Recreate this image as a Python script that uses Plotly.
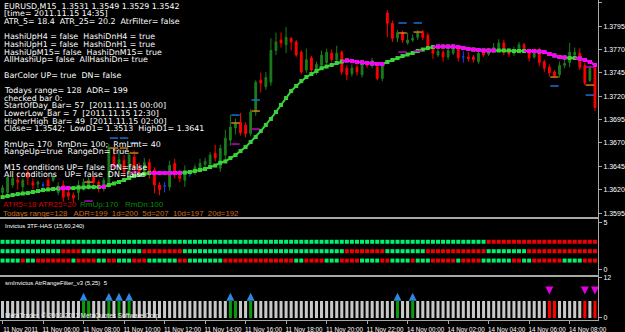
import pandas as pd
import plotly.graph_objects as go
from plotly.subplots import make_subplots

# ---------------- data ----------------
times = list(pd.date_range("2011-11-11 04:00", "2011-11-11 23:45", freq="15min")) + \
        list(pd.date_range("2011-11-14 00:00", "2011-11-14 09:15", freq="15min"))
cats = [t.strftime("%Y-%m-%d %H:%M") for t in times]

opens = [1.3617,1.3617,1.3625,1.3630,1.3623,1.3638,1.3628,1.3626,1.3625,1.3630,
         1.3630,1.3617,1.3625,1.3617,1.3614,1.3617,1.3622,1.3624,1.3633,1.3628,
         1.3622,1.3627,1.3655,1.3644,1.3651,1.3639,1.3655,1.3644,1.3638,1.3649,
         1.3641,1.3625,1.3624,1.3623,1.3648,1.3635,1.3630,1.3637,1.3639,1.3641,
         1.3647,1.3647,1.3659,1.3643,1.3657,1.3673,1.3686,1.3692,1.3689,1.3680,
         1.3703,1.3737,1.3730,1.3735,1.3769,1.3780,1.3775,1.3782,1.3778,1.3767,
         1.3748,1.3761,1.3746,1.3753,1.3756,1.3766,1.3759,1.3767,1.3750,1.3744,
         1.3751,1.3743,1.3755,1.3753,1.3751,1.3739,1.3809,1.3798,1.3782,1.3788,
         1.3777,1.3780,1.3783,1.3789,1.3785,1.3771,1.3764,1.3767,1.3762,1.3766,
         1.3771,1.3762,1.3762,1.3762,1.3757,1.3767,1.3765,1.3769,1.3771,1.3777,
         1.3768,1.3766,1.3769,1.3775,1.3767,1.3762,1.3767,1.3757,1.3751,1.3746,
         1.3743,1.3753,1.3756,1.3764,1.3766,1.3753,1.3737,1.3750]
highs = [1.3625,1.3635,1.3635,1.3638,1.3632,1.3643,1.3632,1.3630,1.3628,1.3633,
         1.3637,1.3628,1.3630,1.3622,1.3617,1.3630,1.3632,1.3633,1.3636,1.3630,
         1.3633,1.3669,1.3665,1.3662,1.3657,1.3660,1.3662,1.3649,1.3654,1.3653,
         1.3644,1.3628,1.3628,1.3651,1.3653,1.3641,1.3646,1.3641,1.3647,1.3653,
         1.3654,1.3660,1.3668,1.3668,1.3684,1.3700,1.3696,1.3702,1.3692,1.3706,
         1.3737,1.3745,1.3746,1.3782,1.3788,1.3788,1.3794,1.3783,1.3780,1.3769,
         1.3771,1.3763,1.3757,1.3769,1.3771,1.3770,1.3774,1.3769,1.3753,1.3754,
         1.3754,1.3759,1.3757,1.3761,1.3753,1.3756,1.3812,1.3801,1.3791,1.3790,
         1.3788,1.3786,1.3791,1.3791,1.3788,1.3773,1.3771,1.3770,1.3772,1.3776,
         1.3774,1.3768,1.3767,1.3764,1.3769,1.3769,1.3771,1.3777,1.3781,1.3780,
         1.3771,1.3773,1.3778,1.3777,1.3769,1.3769,1.3772,1.3759,1.3754,1.3748,
         1.3757,1.3761,1.3777,1.3772,1.3771,1.3756,1.3753,1.3753]
lows = [1.3614,1.3612,1.3622,1.3620,1.3617,1.3625,1.3620,1.3622,1.3622,1.3620,
        1.3628,1.3614,1.3607,1.3609,1.3606,1.3609,1.3619,1.3620,1.3625,1.3617,
        1.3618,1.3622,1.3641,1.3639,1.3633,1.3635,1.3636,1.3634,1.3634,1.3632,
        1.3616,1.3614,1.3617,1.3619,1.3632,1.3628,1.3623,1.3634,1.3636,1.3639,
        1.3643,1.3644,1.3650,1.3639,1.3651,1.3667,1.3679,1.3678,1.3676,1.3677,
        1.3699,1.3724,1.3727,1.3731,1.3764,1.3772,1.3766,1.3769,1.3762,1.3744,
        1.3745,1.3745,1.3743,1.3751,1.3754,1.3756,1.3756,1.3743,1.3737,1.3741,
        1.3742,1.3740,1.3750,1.3750,1.3737,1.3736,1.3783,1.3778,1.3778,1.3777,
        1.3775,1.3778,1.3780,1.3780,1.3769,1.3760,1.3762,1.3757,1.3759,1.3764,
        1.3757,1.3756,1.3757,1.3756,1.3755,1.3762,1.3763,1.3767,1.3769,1.3764,
        1.3762,1.3763,1.3767,1.3767,1.3757,1.3760,1.3752,1.3746,1.3741,1.3740,
        1.3740,1.3750,1.3751,1.3762,1.3748,1.3732,1.3735,1.3704]
closes = [1.3622,1.3633,1.3632,1.3628,1.3630,1.3633,1.3625,1.3628,1.3625,1.3624,
          1.3634,1.3624,1.3612,1.3613,1.3611,1.3625,1.3628,1.3630,1.3628,1.3625,
          1.3630,1.3665,1.3646,1.3652,1.3639,1.3657,1.3643,1.3638,1.3649,1.3638,
          1.3625,1.3620,1.3624,1.3646,1.3638,1.3632,1.3640,1.3637,1.3644,1.3648,
          1.3650,1.3657,1.3654,1.3664,1.3675,1.3687,1.3692,1.3681,1.3680,1.3703,
          1.3735,1.3734,1.3740,1.3769,1.3778,1.3777,1.3783,1.3778,1.3764,1.3746,
          1.3759,1.3748,1.3754,1.3764,1.3767,1.3759,1.3766,1.3746,1.3743,1.3750,
          1.3746,1.3756,1.3753,1.3758,1.3739,1.3753,1.3798,1.3782,1.3788,1.3780,
          1.3780,1.3782,1.3788,1.3783,1.3773,1.3766,1.3768,1.3762,1.3769,1.3772,
          1.3761,1.3762,1.3760,1.3759,1.3766,1.3764,1.3768,1.3772,1.3777,1.3767,
          1.3765,1.3770,1.3775,1.3769,1.3761,1.3767,1.3756,1.3750,1.3745,1.3742,
          1.3753,1.3755,1.3767,1.3767,1.3751,1.3734,1.3750,1.3708]

ma_values = [1.36121,1.36132,1.36143,1.36153,1.36159,1.36164,1.36175,1.36185,1.36196,1.36202,
             1.36207,1.36212,1.36217,1.36217,1.36217,1.36223,1.36223,1.36228,1.36228,1.36228,
             1.36231,1.36250,1.36266,1.36282,1.36303,1.36325,1.36346,1.36357,1.36367,1.36378,
             1.36378,1.36378,1.36378,1.36378,1.36378,1.36378,1.36383,1.36389,1.36399,1.36410,
             1.36421,1.36442,1.36458,1.36488,1.36502,1.36538,1.36570,1.36613,1.36656,1.36710,
             1.36763,1.36827,1.36892,1.36956,1.37031,1.37106,1.37180,1.37255,1.37309,1.37362,
             1.37405,1.37437,1.37469,1.37499,1.37517,1.37534,1.37555,1.37571,1.37582,1.37576,
             1.37566,1.37561,1.37555,1.37550,1.37544,1.37544,1.37566,1.37587,1.37608,1.37630,
             1.37646,1.37662,1.37683,1.37699,1.37715,1.37726,1.37731,1.37731,1.37731,1.37731,
             1.37726,1.37715,1.37705,1.37699,1.37694,1.37689,1.37689,1.37689,1.37689,1.37689,
             1.37689,1.37683,1.37683,1.37683,1.37683,1.37683,1.37678,1.37673,1.37651,1.37635,
             1.37619,1.37614,1.37608,1.37608,1.37603,1.37587,1.37566,1.37534]
# 1 = rising (green), 0 = flat (magenta)
ma_state = ("111111111111" "00" "111111" "0" "111111111" "000000"
            "11111111111111111111111111111111" "00000000" "1111111111"
            "000000000000" "111111" "00000000" "11" "0000")

lvl_blue = {22: 1.36752, 24: 1.36752, 26: 1.36699, 46: 1.36998, 50: 1.37159,
            79: 1.37983, 82: 1.37983, 109: 1.37309, 116: 1.37212}
lvl_orange = {17: 1.36281, 22: 1.36645, 24: 1.36645, 26: 1.36592, 46: 1.36913,
              50: 1.37041, 79: 1.37876, 82: 1.37886, 109: 1.37405, 116: 1.37319}
lvl_magenta = {17: 1.36078, 22: 1.36453, 26: 1.36388, 46: 1.36688, 50: 1.36849,
               79: 1.37672, 82: 1.37683, 116: 1.37512}

# Heiken-Ashi 3 timeframe rows (G = up, R = down)
has_h4 = "G" * 96 + "R" * 22
has_h1 = "G"*12 + "R"*4 + "G"*12 + "R"*8 + "G"*32 + "R"*8 + "G"*8 + "R"*12 + "G"*8 + "R"*14
has_m15 = ("GGGG" "R" "GG" "RRRRRRR" "G" "RRRR" "GG" "RR" "GGG" "RRR" "GGGGGG" "RR"
           "GGGGGGG" "RRRRRRRRRRRRRR" "GG" "RRRR" "GGG" "RRRR" "GGGG" "RR" "GGGG" "R"
           "GGG" "RRRRR" "G" "RRRR" "GGGGGG" "RR" "GG" "RRRRRR" "GGGG" "RRR")

arf_value = [5] * len(cats)
arf_green = [16, 17, 21, 23, 25, 45, 46, 49, 78, 81]
arf_red = [108, 109, 115, 117]
arrows_up = [16, 21, 23, 25, 45, 49, 78, 81]
arrows_dn = [108, 115, 117]

price_ticks = [1.3595, 1.3620, 1.3645, 1.3670, 1.3695, 1.3720, 1.3745, 1.3770, 1.3795, 1.3820]
time_ticks = ["2011-11-11 04:00", "2011-11-11 06:00", "2011-11-11 08:00", "2011-11-11 10:00",
              "2011-11-11 12:00", "2011-11-11 14:00", "2011-11-11 16:00", "2011-11-11 18:00",
              "2011-11-11 20:00", "2011-11-11 22:00", "2011-11-14 00:00", "2011-11-14 02:00",
              "2011-11-14 04:00", "2011-11-14 06:00", "2011-11-14 08:00"]
time_labels = ["11 Nov 2011", "11 Nov 06:00", "11 Nov 08:00", "11 Nov 10:00", "11 Nov 12:00",
               "11 Nov 14:00", "11 Nov 16:00", "11 Nov 18:00", "11 Nov 20:00", "11 Nov 22:00",
               "14 Nov 00:00", "14 Nov 02:00", "14 Nov 04:00", "14 Nov 06:00", "14 Nov 08:00"]

info_lines = [
    "EURUSD,M15  1.3531 1.3549 1.3529 1.3542",
    "[time= 2011.11.15 14:35]",
    "ATR_5= 18.4  ATR_25= 20.2  AtrFilter= false",
    "",
    "HashiUpH4 = false  HashiDnH4 = true",
    "HashiUpH1 = false  HashiDnH1 = true",
    "HashiUpM15= false  HashiDnM15= true",
    "AllHashiUp= false  AllHashiDn= true",
    "",
    "BarColor UP= true  DN= false",
    "",
    "Todays range= 128  ADR= 199",
    "checked bar 0:",
    "StartOfDay_Bar= 57  [2011.11.15 00:00]",
    "LowerLow_Bar = 7  [2011.11.15 12:30]",
    "HigherHigh_Bar= 49  [2011.11.15 02:00]",
    "Close= 1.3542;  LowD1= 1.3513  HighD1= 1.3641",
    "",
    "RmUp= 170  RmDn= 100;  RmLmt= 40",
    "RangeUp=true  RangeDn= true",
    "",
    "M15 conditions UP= false  DN=false",
    "All conditions   UP= false  DN=false",
]

# ---------------- figure ----------------
W, H = 625, 332
ML, MR, MT, MB = 0, 27, 0, 12
PW, PH = W - ML - MR, H - MT - MB
SANS = "Liberation Sans, Arial, sans-serif"

def px_y(y):
    return (PH - y) / PH

def px_x(x):
    return x / PW

BG = "#000000"
FRAME = "#a8a8a8"
GREEN_C = "#1b7d1b"
RED_C = "#ff0000"

fig = make_subplots(rows=3, cols=1, shared_xaxes=True, vertical_spacing=0)

n = len(cats)
nd = [i for i in range(n) if opens[i] != closes[i]]
dj = [i for i in range(n) if opens[i] == closes[i]]

fig.add_trace(go.Candlestick(
    x=[cats[i] for i in nd], open=[opens[i] for i in nd], high=[highs[i] for i in nd],
    low=[lows[i] for i in nd], close=[closes[i] for i in nd],
    increasing=dict(line=dict(color=GREEN_C, width=1), fillcolor=GREEN_C),
    decreasing=dict(line=dict(color=RED_C, width=1), fillcolor=RED_C),
    whiskerwidth=0, showlegend=False, hoverinfo="skip"), row=1, col=1)
fig.add_trace(go.Candlestick(
    x=[cats[i] for i in dj], open=[opens[i] for i in dj], high=[highs[i] for i in dj],
    low=[lows[i] for i in dj], close=[closes[i] for i in dj],
    increasing=dict(line=dict(color="#2040ff", width=1), fillcolor="#2040ff"),
    decreasing=dict(line=dict(color="#2040ff", width=1), fillcolor="#2040ff"),
    whiskerwidth=0, showlegend=False, hoverinfo="skip"), row=1, col=1)

# moving average, green / magenta
fig.add_trace(go.Scatter(x=cats, y=ma_values, mode="lines+markers",
                         line=dict(color="#3cd23c", width=2),
                         marker=dict(symbol="square", size=4, color="#3cd23c"),
                         showlegend=False, hoverinfo="skip"), row=1, col=1)
mag_y = []
for i in range(n):
    flat = ma_state[i] == "0" or (i + 1 < n and ma_state[i + 1] == "0")
    mag_y.append(ma_values[i] if flat else None)
fig.add_trace(go.Scatter(x=cats, y=mag_y, mode="lines", connectgaps=False,
                         line=dict(color="#ff00ff", width=2),
                         showlegend=False, hoverinfo="skip"), row=1, col=1)
mi = [i for i in range(n) if ma_state[i] == "0"]
fig.add_trace(go.Scatter(x=[cats[i] for i in mi], y=[ma_values[i] for i in mi], mode="markers",
                         marker=dict(symbol="square", size=4, color="#ff00ff"),
                         showlegend=False, hoverinfo="skip"), row=1, col=1)

for lv, col in ((lvl_blue, "#1e6ed2"), (lvl_orange, "#d2781e"), (lvl_magenta, "#c800c8")):
    ks = sorted(lv)
    fig.add_trace(go.Scatter(x=[cats[k] for k in ks], y=[lv[k] for k in ks], mode="markers",
                             marker=dict(symbol="line-ew", size=6, line=dict(color=col, width=1.5)),
                             showlegend=False, hoverinfo="skip"), row=1, col=1)

# HAS panel
for row_str, val in ((has_h4, 3), (has_h1, 2), (has_m15, 1)):
    fig.add_trace(go.Scatter(x=cats, y=[val] * n, mode="markers",
                             marker=dict(symbol="square", size=4,
                                         color=["#00f070" if c == "G" else "#f00000" for c in row_str]),
                             showlegend=False, hoverinfo="skip"), row=2, col=1)

# ATR range filter panel
bar_cols = []
for i in range(n):
    if i in arf_green:
        bar_cols.append("#0a9a0a")
    elif i in arf_red:
        bar_cols.append("#ff0000")
    else:
        bar_cols.append("#c8c8c8")
fig.add_trace(go.Bar(x=cats, y=arf_value, marker=dict(color=bar_cols, line=dict(width=0)),
                     showlegend=False, hoverinfo="skip"), row=3, col=1)
fig.add_trace(go.Scatter(x=[cats[i] for i in arrows_up], y=[7.4] * len(arrows_up), mode="markers",
                         marker=dict(symbol="arrow-up", size=8, color="#2f86e0"),
                         showlegend=False, hoverinfo="skip"), row=3, col=1)
fig.add_trace(go.Scatter(x=[cats[i] for i in arrows_dn], y=[6.9] * len(arrows_dn), mode="markers",
                         marker=dict(symbol="arrow-down", size=8, color="#e000e0"),
                         showlegend=False, hoverinfo="skip"), row=3, col=1)

# ---------------- layout ----------------
xr = [-0.5, 117.6]
common_x = dict(type="category", categoryorder="array", categoryarray=cats, range=xr,
                showgrid=False, zeroline=False, showline=True, linecolor=FRAME, linewidth=1,
                mirror=True, rangeslider=dict(visible=False))
yfont = dict(size=7, family=SANS, color="#ffffff")
fig.update_layout(
    width=W, height=H, margin=dict(l=ML, r=MR, t=MT, b=MB, autoexpand=False),
    paper_bgcolor=BG, plot_bgcolor=BG, bargap=0.4, boxgap=0.5, showlegend=False,
    font=dict(family=SANS, color="#ffffff", size=8),
    xaxis=dict(domain=[0, 1], showticklabels=False, ticks="", **common_x),
    xaxis2=dict(domain=[0, 1], showticklabels=False, ticks="", **common_x),
    xaxis3=dict(domain=[0, 1], tickvals=time_ticks, ticktext=time_labels, ticks="outside",
                ticklen=3, tickcolor=FRAME, tickfont=dict(size=6.3, family=SANS, color="#ffffff"),
                tickangle=0, ticklabelshift=18, ticklabelstandoff=0, ticklabeloverflow="allow",
                **common_x),
    yaxis=dict(domain=[px_y(218), 1], range=[1.35897, 1.38229], side="right",
               tickvals=price_ticks, ticktext=["%.4f" % v for v in price_ticks],
               ticks="outside", ticklen=3, tickcolor=FRAME, showgrid=False, zeroline=False,
               showline=True, linecolor=FRAME, tickfont=yfont),
    yaxis2=dict(domain=[px_y(276), px_y(218)], range=[-0.64, 5.53], side="right",
                tickvals=[0, 5], ticktext=["0", "5"], ticks="outside", ticklen=3, tickcolor=FRAME,
                showgrid=False, zeroline=False, showline=True, linecolor=FRAME, tickfont=yfont),
    yaxis3=dict(domain=[0, px_y(276)], range=[-0.59, 12.35], side="right",
                tickvals=[0, 12], ticktext=["0", "12"], ticks="outside", ticklen=3, tickcolor=FRAME,
                showgrid=False, zeroline=False, showline=True, linecolor=FRAME, tickfont=yfont),
)

ann = []
def txt(x, y, s, size=8, color="#ffffff", family="DejaVu Sans"):
    ann.append(dict(x=px_x(x), y=px_y(y), xref="paper", yref="paper",
                    text=s.replace("  ", "\u00a0\u00a0"),
                    showarrow=False, xanchor="left", yanchor="middle",
                    font=dict(size=size, color=color, family=family)))

for k, line in enumerate(info_lines):
    if line:
        txt(2, 6 + k * 7.67, line, size=7.9)

txt(1, 204, "ATR5=18 ATR25=20", size=8, color="#d40000", family=SANS)
txt(78, 204, "RmUp:170", size=8, color="#0a8a0a", family=SANS)
txt(123, 204, "RmDn:100", size=8, color="#0a8a0a", family=SANS)
txt(1, 213, "Todays range=128   ADR=199  1d=200  5d=207  10d=197  20d=192", size=7.8,
    color="#d2691e", family=SANS)

txt(3, 226, "Invictus 3TF-HAS (15,60,240)", size=6, family=SANS)
txt(3, 283, "smInvictus AtrRangeFilter_v3 (5,25)  5", size=6, family=SANS)
txt(3, 316, "MetaTrader, © 2001-2011 MetaQuotes Software Corp.", size=6.5, color="#f0f0f0",
    family=SANS)

fig.update_layout(annotations=ann)
fig.write_html("out.html")
